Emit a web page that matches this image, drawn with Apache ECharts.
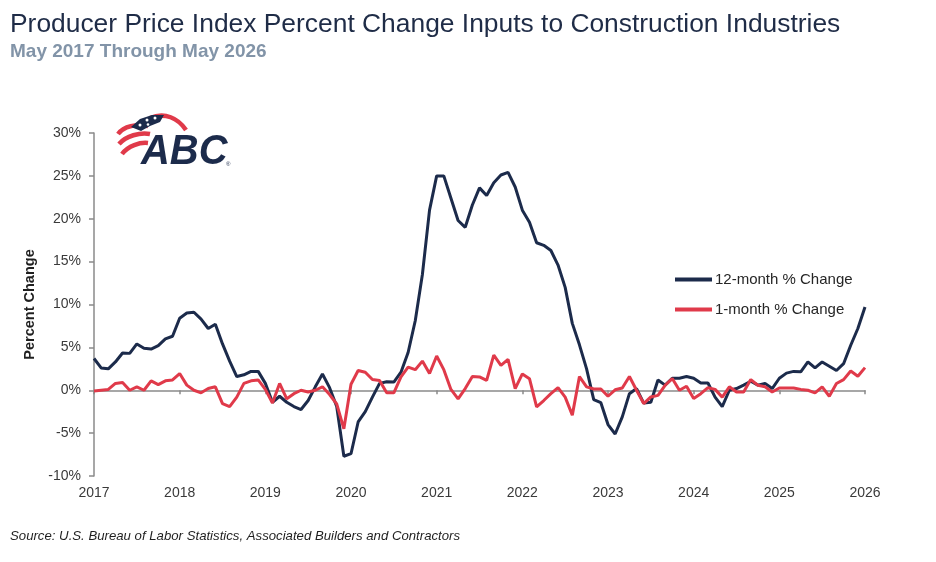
<!DOCTYPE html>
<html>
<head>
<meta charset="utf-8">
<script src="https://cdn.jsdelivr.net/npm/echarts@6/dist/echarts.min.js"></script>
<style>
  html, body { margin: 0; padding: 0; background: #fff; }
  #chart { width: 936px; height: 562px; }
</style>
</head>
<body>
<div id="chart"></div>
<script>
// monthly readings, May 2017 .. May 2026 (109 months)
var yearLabels = ['2017', '2018', '2019', '2020', '2021', '2022', '2023', '2024', '2025', '2026'];

var twelveMonth = [
  3.7, 2.6, 2.5, 3.3, 4.35, 4.3, 5.4, 4.9, 4.8, 5.2, 6.0, 6.3,
  8.4, 9.0, 9.1, 8.3, 7.2, 7.7, 5.4, 3.4, 1.6, 1.8, 2.2, 2.2,
  0.8, -1.4, -0.7, -1.4, -1.9, -2.25, -1.2, 0.4, 1.9, 0.3, -1.9, -7.7,
  -7.4, -3.7, -2.5, -0.8, 0.8, 1.0, 0.95, 2.1, 4.4, 8.1, 13.5, 21.0,
  25.0, 25.0, 22.4, 19.8, 19.0, 21.6, 23.6, 22.7, 24.2, 25.1, 25.4, 23.7,
  21.0, 19.6, 17.2, 16.9, 16.3, 14.6, 12.0, 7.8, 5.3, 2.5, -1.1, -1.45,
  -4.0, -5.1, -3.1, -0.4, 0.2, -1.5, -1.4, 1.2, 0.6, 1.4, 1.4, 1.6,
  1.4, 0.85, 0.85, -0.8, -1.9, 0.0, 0.2, 0.6, 1.05, 0.6, 0.8, 0.2,
  1.4, 2.0, 2.2, 2.15, 3.3, 2.6, 3.3, 2.8, 2.3, 3.1, 5.25, 7.2,
  9.7
];

var oneMonth = [
  -0.1, 0.0, 0.1, 0.8, 0.9, 0.0, 0.4, 0.0, 1.1, 0.65, 1.1, 1.2,
  1.95, 0.6, 0.0, -0.3, 0.2, 0.4, -1.55, -1.9, -0.8, 0.8, 1.1, 1.2,
  0.1, -1.5, 0.8, -1.0, -0.4, 0.0, -0.2, 0.0, 0.4, -0.5, -1.6, -4.5,
  0.7, 2.3, 2.1, 1.25, 1.15, -0.3, -0.3, 1.55, 2.7, 2.4, 3.4, 1.95,
  4.0, 2.4, 0.1, -1.0, 0.2, 1.6, 1.55, 1.15, 4.1, 2.9, 3.6, 0.2,
  1.9, 1.35, -1.95, -1.2, -0.4, 0.3, -0.8, -2.9, 1.6, 0.4, 0.15, 0.15,
  -0.7, 0.05, 0.27, 1.6, 0.0, -1.55, -0.78, -0.6, 0.58, 1.36, 0.0, 0.47,
  -0.97, -0.4, 0.3, 0.1, -0.8, 0.4, -0.2, -0.2, 1.24, 0.58, 0.4, -0.2,
  0.27, 0.27, 0.27, 0.1, 0.0, -0.3, 0.4, -0.7, 0.78, 1.24, 2.25, 1.63,
  2.64
];

var monthNames = ['Jan', 'Feb', 'Mar', 'Apr', 'May', 'Jun', 'Jul', 'Aug', 'Sep', 'Oct', 'Nov', 'Dec'];
var months = [];
for (var i = 0; i < twelveMonth.length; i++) {
  var m = (4 + i) % 12;
  var y = 2017 + Math.floor((4 + i) / 12);
  months.push(monthNames[m] + ' ' + y);
}

var navy = '#1c2b4b';
var red = '#e03a4a';
var axisGray = '#8a8a8a';

var myChart = echarts.init(document.getElementById('chart'));

var option = {
  backgroundColor: '#ffffff',
  textStyle: { fontFamily: 'Liberation Sans' },
  title: {
    text: 'Producer Price Index Percent Change Inputs to Construction Industries',
    subtext: 'May 2017 Through May 2026',
    left: 10,
    top: 12,
    padding: 0,
    itemGap: 4,
    textStyle: { fontSize: 26.4, fontWeight: 'normal', color: '#1f2c47', fontFamily: 'Liberation Sans' },
    subtextStyle: { fontSize: 19, fontWeight: 'bold', color: '#8294a8', fontFamily: 'Liberation Sans' }
  },
  legend: {
    orient: 'vertical',
    left: 675,
    top: 272,
    padding: 0,
    itemGap: 15,
    itemWidth: 37,
    itemHeight: 4,
    icon: 'rect',
    textStyle: { fontSize: 15, color: '#262626', lineHeight: 15, padding: [0, 0, 0, -2] },
    data: ['12-month % Change', '1-month % Change']
  },
  grid: { left: 94, right: 71, top: 133, bottom: 86 },
  xAxis: [{
    type: 'category',
    data: months,
    boundaryGap: false,
    position: 'bottom',
    axisLine: { show: false, onZero: false },
    axisTick: { show: false },
    axisLabel: {
      interval: 11,
      margin: 10,
      fontSize: 14,
      color: '#3a3a3a',
      formatter: function (val, idx) { return yearLabels[Math.round(idx / 12)]; }
    },
    splitLine: { show: false }
  }, {
    // zero line with year ticks
    type: 'category',
    data: months,
    boundaryGap: false,
    position: 'bottom',
    axisLine: { show: true, onZero: true, lineStyle: { color: axisGray, width: 1.5 } },
    axisTick: { show: true, interval: 11, length: 4, lineStyle: { color: axisGray, width: 1.5 } },
    axisLabel: { show: false },
    splitLine: { show: false }
  }],
  yAxis: {
    type: 'value',
    min: -10,
    max: 30,
    interval: 5,
    name: 'Percent Change',
    nameLocation: 'middle',
    nameGap: 49,
    nameTextStyle: { fontSize: 14.5, fontWeight: 'bold', color: '#1f1f1f' },
    axisLine: { show: true, lineStyle: { color: axisGray, width: 1.5 } },
    axisTick: { show: true, length: 5, lineStyle: { color: axisGray, width: 1.5 } },
    axisLabel: { margin: 13, fontSize: 14, color: '#3a3a3a', formatter: '{value}%' },
    splitLine: { show: false }
  },
  series: [{
    name: '12-month % Change',
    type: 'line',
    xAxisIndex: 0,
    data: twelveMonth,
    symbol: 'none',
    color: navy,
    lineStyle: { color: navy, width: 3 }
  }, {
    name: '1-month % Change',
    type: 'line',
    xAxisIndex: 0,
    data: oneMonth,
    symbol: 'none',
    color: red,
    lineStyle: { color: red, width: 3 }
  }],
  graphic: [
    // ABC logo, rough
    { type: 'bezierCurve', shape: { x1: 150, y1: 118, x2: 186, y2: 130, cpx1: 165, cpy1: 112, cpx2: 178, cpy2: 118 },
      style: { stroke: red, lineWidth: 4.5, fill: null } },
    { type: 'bezierCurve', shape: { x1: 118, y1: 134, x2: 148, y2: 126, cpx1: 124, cpy1: 126, cpx2: 136, cpy2: 124 },
      style: { stroke: red, lineWidth: 4.5, fill: null } },
    { type: 'bezierCurve', shape: { x1: 119, y1: 144, x2: 150, y2: 134, cpx1: 126, cpy1: 136, cpx2: 140, cpy2: 132 },
      style: { stroke: red, lineWidth: 4.5, fill: null } },
    { type: 'bezierCurve', shape: { x1: 122, y1: 154, x2: 148, y2: 143, cpx1: 128, cpy1: 146, cpx2: 140, cpy2: 142 },
      style: { stroke: red, lineWidth: 4.5, fill: null } },
    { type: 'polygon', shape: { points: [[131, 127], [140, 119], [152, 115], [164, 115], [160, 122], [150, 126], [141, 131]] },
      style: { fill: navy } },
    { type: 'circle', shape: { cx: 140, cy: 125, r: 1.5 }, style: { fill: '#fff' } },
    { type: 'circle', shape: { cx: 147, cy: 120, r: 1.5 }, style: { fill: '#fff' } },
    { type: 'circle', shape: { cx: 155, cy: 118, r: 1.5 }, style: { fill: '#fff' } },
    { type: 'circle', shape: { cx: 148, cy: 124.5, r: 1.3 }, style: { fill: '#fff' } },
    { type: 'text', x: 141, y: 131, scaleX: 0.95,
      style: { text: 'ABC', fontSize: 42, fontWeight: 'bold', fontStyle: 'italic', fill: navy, fontFamily: 'Liberation Sans' } },
    { type: 'text', left: 226, top: 161,
      style: { text: '®', fontSize: 6, fill: navy, fontFamily: 'Liberation Sans' } },
    {
      type: 'text',
      left: 10,
      top: 530,
      style: {
        text: 'Source: U.S. Bureau of Labor Statistics, Associated Builders and Contractors',
        fontSize: 13.2,
        fontStyle: 'italic',
        fill: '#1f1f1f',
        fontFamily: 'Liberation Sans'
      }
    }
  ]
};

myChart.setOption(option);
</script>
</body>
</html>
